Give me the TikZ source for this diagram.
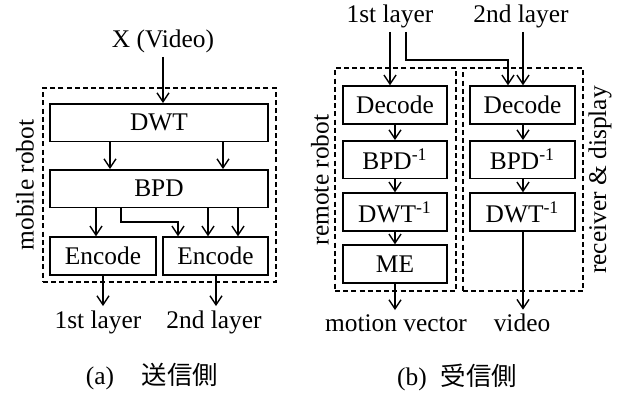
\documentclass[tikz,border=0pt]{standalone}
\usepackage{fontspec}
\setmainfont{Liberation Serif}
\newfontfamily\jpfont{Noto Sans CJK JP}
\usetikzlibrary{arrows.meta}

\tikzset{
	blk/.style={draw, line width=0.7pt, inner sep=0pt, minimum height=18.7pt},
	grp/.style={draw, line width=0.7pt, dash pattern=on 2.5pt off 1.6pt, inner sep=0pt},
	arr/.style={line width=0.7pt, -{Straight Barb[length=4.5pt,width=6pt]}},
	lbl/.style={inner sep=2pt},
}
\def\inv{\textsuperscript{-1}}

\begin{document}
\begin{tikzpicture}[x=0.5pt, y=-0.5pt, font=\fontsize{12.7}{15}\selectfont]
			%%%%% START %%%%%
			\useasboundingbox (0,0) rectangle (626,396);
			
			%% sender side
			\node[grp, minimum width=116.5pt, minimum height=97pt] (mobile) at (159.5,185) {};
			\node[rotate=90] (mobilelbl) at (25,185) {mobile robot};
			\node[lbl] (xin) at (163,41) {X (Video)};
			\node[blk, minimum width=109pt] (dwt) at (159,122.5) {DWT};
			\node[blk, minimum width=109pt] (bpd) at (159,188.5) {BPD};
			\node[blk, minimum width=53pt, minimum height=19pt] (encA) at (103,256) {Encode};
			\node[blk, minimum width=52.5pt, minimum height=19pt] (encB) at (215.5,256) {Encode};
			\node[lbl] (outA) at (98,322) {1st layer};
			\node[lbl] (outB) at (214,322) {2nd layer};
			
			\draw[arr] (xin) -- (xin |- dwt.north);
			\draw[arr] (110,0 |- dwt.south) -- (110,0 |- bpd.north);
			\draw[arr] (223,0 |- dwt.south) -- (223,0 |- bpd.north);
			\draw[arr] (96,0 |- bpd.south) -- (96,0 |- encA.north);
			\draw[arr] (121,0 |- bpd.south) |- (178,222) -- (178,0 |- encB.north);
			\draw[arr] (208,0 |- bpd.south) -- (208,0 |- encB.north);
			\draw[arr] (238,0 |- bpd.south) -- (238,0 |- encB.north);
			\draw[arr] (103,0 |- encA.south) -- (103,0 |- outA.north);
			\draw[arr] (216,0 |- encB.south) -- (216,0 |- outB.north);
			
			\node (capA) at (152,377) {(a)\hspace{1.1em}{\jpfont 送信側}};
			
			%% receiver side
			\node[grp, minimum width=60.5pt, minimum height=111.5pt] (remote) at (395.5,179.5) {};
			\node[grp, minimum width=60pt, minimum height=111.5pt] (display) at (523,179.5) {};
			\node[rotate=90] (remotelbl) at (320,180) {remote robot};
			\node[rotate=90] (displaylbl) at (600,180) {receiver \& display};
			\node[lbl] (inA) at (390,16) {1st layer};
			\node[lbl] (inB) at (521,16) {2nd layer};
			
			\node[blk, minimum width=52pt, minimum height=19pt] (decA) at (395,105) {Decode};
			\node[blk, minimum width=52pt] (bpiA) at (395,159.5) {BPD\inv};
			\node[blk, minimum width=52pt, minimum height=19pt] (dwiA) at (395,212) {DWT\inv};
			\node[blk, minimum width=52pt, minimum height=19pt] (me) at (395,264) {ME};
			\node[blk, minimum width=52.5pt, minimum height=19pt] (decB) at (522.5,105) {Decode};
			\node[blk, minimum width=52.5pt] (bpiB) at (522.5,159.5) {BPD\inv};
			\node[blk, minimum width=52.5pt, minimum height=19pt] (dwiB) at (522.5,212) {DWT\inv};
			\node[lbl] (mv) at (396,323) {motion vector};
			\node[lbl] (vid) at (522,323) {video};
			
			\draw[arr] (390,0 |- inA.south) -- (390,0 |- decA.north);
			\draw[arr] (406,0 |- inA.south) |- (508,60) -- (508,0 |- decB.north);
			\draw[arr] (523,0 |- inB.south) -- (523,0 |- decB.north);
			\draw[arr] (decA) -- (bpiA);
			\draw[arr] (bpiA) -- (dwiA);
			\draw[arr] (dwiA) -- (me);
			\draw[arr] (me) -- (me |- mv.north);
			\draw[arr] (523,0 |- decB.south) -- (523,0 |- bpiB.north);
			\draw[arr] (523,0 |- bpiB.south) -- (523,0 |- dwiB.north);
			\draw[arr] (523,0 |- dwiB.south) -- (523,0 |- vid.north);
			
			\node (capB) at (457,377) {(b)\hspace{0.55em}{\jpfont 受信側}};
			%%%%% END %%%%%
\end{tikzpicture}
\end{document}
